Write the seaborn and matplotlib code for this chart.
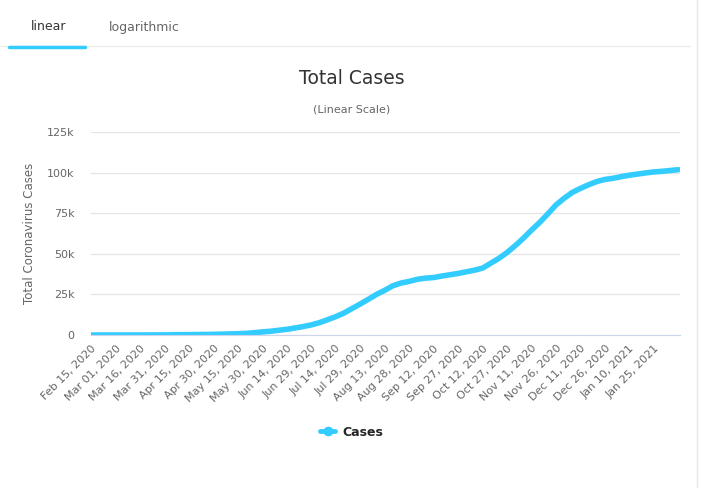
import pandas as pd
import seaborn as sns
import matplotlib.pyplot as plt
import matplotlib.dates as mdates
from matplotlib.ticker import FuncFormatter
from matplotlib.lines import Line2D

# total cases, one value every 5 days from Feb 15, 2020
start_date = "2020-02-15"
step_days = 5
total_cases = [
    0, 0, 0, 0, 0, 0, 10, 20, 40, 60,
    140, 190, 230, 290, 340, 400, 500, 650, 800, 1000,
    1400, 1900, 2300, 2900, 3500, 4300, 5200, 6200, 7600, 9400,
    11300, 13500, 16300, 19100, 22000, 25000, 27500, 30300, 32000, 33000,
    34300, 35000, 35400, 36300, 37100, 37900, 38900, 39900, 41200, 44200,
    47200, 50800, 55000, 59600, 64600, 69300, 74600, 80100, 84200, 87800,
    90300, 92500, 94500, 95800, 96500, 97500, 98400, 99100, 99800, 100400,
    100800, 101300, 101800,
]
y_ticks = [0, 25000, 50000, 75000, 100000, 125000]
tick_start = "2020-02-15"
tick_end = "2021-01-25"

dates = pd.date_range(start_date, periods=len(total_cases), freq=f"{step_days}D")
df = pd.DataFrame({"date": dates, "cases": total_cases})

line_color = "#33ccff"
grey = "#666666"

sns.set_style("white")
plt.rcParams["font.family"] = ["DejaVu Sans"]

fig = plt.figure(figsize=(7.02, 4.88), dpi=100)
ax = fig.add_axes([91 / 702, 1 - 335 / 488, (680 - 91) / 702, (335 - 132) / 488])

sns.lineplot(data=df, x="date", y="cases", ax=ax, color=line_color,
             linewidth=4.0, solid_capstyle="round", legend=False)

ax.set_ylim(0, 125000)
ax.set_xlim(dates[0], dates[-1] + pd.Timedelta(days=1))
ax.set_yticks(y_ticks)
ax.yaxis.set_major_formatter(FuncFormatter(lambda v, p: "0" if v == 0 else f"{int(v / 1000)}k"))
ax.grid(axis="y", color="#e6e6e6", linewidth=1)
ax.set_axisbelow(True)

ticks = pd.date_range(tick_start, tick_end, freq="15D")
ax.set_xticks(ticks)
ax.xaxis.set_major_formatter(mdates.DateFormatter("%b %d, %Y"))
for lbl in ax.get_xticklabels():
    lbl.set_rotation(45)
    lbl.set_ha("right")
    lbl.set_rotation_mode("anchor")
ax.tick_params(axis="both", labelsize=8, colors=grey, length=0)
ax.tick_params(axis="x", pad=6)
ax.tick_params(axis="y", pad=12)

for side in ["top", "right", "left"]:
    ax.spines[side].set_visible(False)
ax.spines["bottom"].set_color("#ccd6eb")
ax.set_xlabel("")
ax.set_ylabel("Total Coronavirus Cases", fontsize=8.5, color=grey, labelpad=8)

# titles
fig.text(352 / 702, 1 - 78 / 488, "Total Cases", ha="center", va="center",
         fontsize=13.5, color="#333333")
fig.text(352 / 702, 1 - 109 / 488, "(Linear Scale)", ha="center", va="center",
         fontsize=8, color=grey)

# legend
handle = Line2D([], [], color=line_color, linewidth=3.5, marker="o", markersize=6)
fig.legend(handles=[handle], labels=["Cases"], loc="center",
           bbox_to_anchor=(352 / 702, 1 - 432 / 488), frameon=False,
           prop={"weight": "bold", "size": 9}, handlelength=1.2, handletextpad=0.6)

# tab header
fig.text(49 / 702, 1 - 27 / 488, "linear", ha="center", va="center",
         fontsize=9, color="#333333")
fig.text(144 / 702, 1 - 27 / 488, "logarithmic", ha="center", va="center",
         fontsize=9, color=grey)
fig.add_artist(Line2D([0, 690 / 702], [1 - 46 / 488] * 2, color="#eeeeee", linewidth=1))
fig.add_artist(Line2D([9 / 702, 85 / 702], [1 - 47 / 488] * 2, color=line_color,
                      linewidth=2.5, solid_capstyle="round"))
fig.add_artist(Line2D([697 / 702] * 2, [0, 1], color="#e6e6e6", linewidth=1))

fig.savefig("out.png", dpi=100)
